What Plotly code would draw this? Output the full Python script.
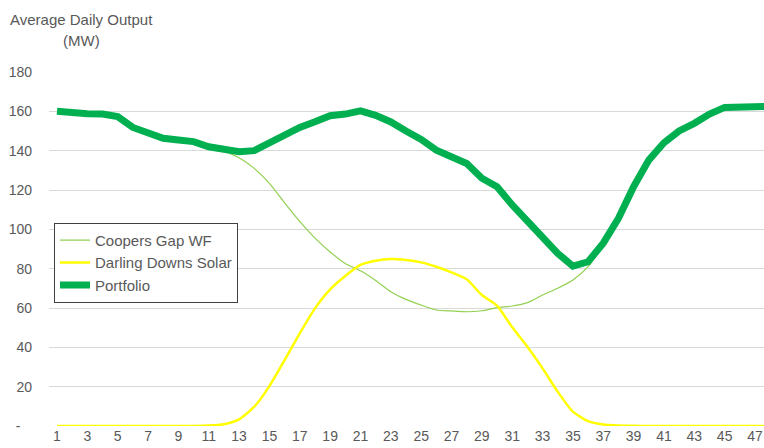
import plotly.graph_objects as go

# 시간대 (1~48, 48번째는 오른쪽 끝에서 잘림)
periods = list(range(1, 49))

# 포트폴리오 합계 (MW)
portfolio = [160.0, 159.0, 158.8, 158.6, 157.3, 151.8, 148.8, 146.3, 145.4, 144.6,
             142.0, 140.7, 139.5, 140.0, 144.0, 148.8, 151.8, 154.7, 157.8, 158.6,
             160.2, 158.0, 154.6, 150.0, 145.7, 140.3, 137.3, 133.5, 126.0, 121.7,
             112.4, 103.9, 96.2, 87.8, 81.3, 83.5, 93.0, 105.6, 121.7, 135.2,
             144.0, 150.0, 153.9, 158.6, 162.0, 162.4, 162.5, 162.5]

# 풍력 (Coopers Gap WF)
coopers_gap = [160.0, 159.0, 158.8, 158.6, 157.3, 151.8, 148.8, 146.3, 145.4, 144.6,
               141.8, 139.8, 136.4, 131.0, 123.4, 113.5, 104.0, 95.5, 88.5, 82.6,
               78.9, 74.0, 68.3, 64.4, 61.5, 59.0, 58.5, 58.1, 58.6, 60.2,
               61.0, 62.7, 66.6, 70.0, 74.2, 81.0, 92.2, 105.3, 121.7, 135.2,
               144.0, 150.0, 153.9, 158.6, 162.0, 162.4, 162.5, 162.5]

# 태양광 (Darling Downs Solar)
darling_downs = [0, 0, 0, 0, 0, 0, 0, 0, 0, 0,
                 0.2, 0.9, 3.4, 9.8, 20.3, 33.5, 47.1, 59.8, 69.5, 76.3,
                 81.9, 84.0, 84.9, 84.4, 83.2, 81.0, 78.1, 74.6, 66.6, 61.2,
                 50.2, 40.3, 29.3, 17.4, 7.3, 2.5, 0.8, 0.3, 0.1, 0,
                 0, 0, 0, 0, 0, 0, 0, 0]

x_ticks = list(range(1, 48, 2))
y_ticks = [0, 20, 40, 60, 80, 100, 120, 140, 160, 180]
y_labels = ['-\u00a0\u00a0\u00a0', '20', '40', '60', '80', '100', '120', '140', '160', '180']

FONT = 'Arial, Liberation Sans, sans-serif'
GREY = '#595959'

fig = go.Figure()

fig.add_trace(go.Scatter(
    x=periods, y=coopers_gap, mode='lines', name='Coopers Gap WF',
    line=dict(color='#92D050', width=1.2, shape='spline', smoothing=0.6),
    legendgroup='a'
))
fig.add_trace(go.Scatter(
    x=periods, y=darling_downs, mode='lines', name='Darling Downs Solar',
    line=dict(color='#FFFF00', width=2.5, shape='spline', smoothing=0.6),
    legendgroup='b'
))
fig.add_trace(go.Scatter(
    x=periods, y=portfolio, mode='lines', name='Portfolio',
    line=dict(color='#00B050', width=7),
    legendgroup='c'
))

fig.update_layout(
    width=764, height=448,
    margin=dict(l=49, r=0, t=72, b=22),
    paper_bgcolor='white', plot_bgcolor='white',
    font=dict(family=FONT, size=15, color=GREY),
    showlegend=True,
    legend=dict(
        x=0.007, y=0.574, xanchor='left', yanchor='top',
        bordercolor='#404040', borderwidth=1, bgcolor='white',
        font=dict(size=15, color=GREY),
        tracegroupgap=5, traceorder='normal', itemwidth=30
    ),
    xaxis=dict(
        range=[0.473, 47.593], tickvals=x_ticks, ticktext=[str(t) for t in x_ticks],
        showgrid=False, zeroline=False, showline=False, ticks='',
        tickfont=dict(size=14, color=GREY), automargin=False,
        ticklabeloverflow='allow'
    ),
    yaxis=dict(
        range=[0, 180], tickvals=y_ticks, ticktext=y_labels,
        showgrid=True, gridcolor='#D9D9D9', gridwidth=1,
        zeroline=False, showline=False, ticks='',
        tickfont=dict(size=14, color=GREY), ticklabelstandoff=16,
        automargin=False
    ),
    annotations=[
        dict(text='Average Daily Output', xref='paper', yref='paper',
             x=0.0455, y=1.147, xanchor='center', yanchor='middle',
             showarrow=False, font=dict(size=15, color=GREY)),
        dict(text='(MW)', xref='paper', yref='paper',
             x=0.0455, y=1.090, xanchor='center', yanchor='middle',
             showarrow=False, font=dict(size=15, color=GREY)),
    ]
)

# 기본 body 여백(8px) 제거, 모드바 숨김
fig.write_html("out.html", config={'displayModeBar': False},
               post_script="document.body.style.margin='0px';")
